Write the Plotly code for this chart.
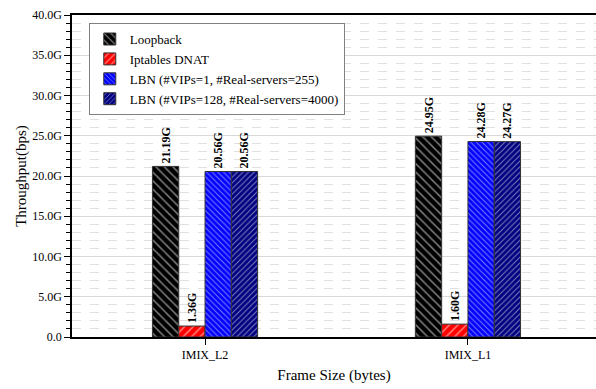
import plotly.graph_objects as go

categories = ["IMIX_L2", "IMIX_L1"]
series_names = ["Loopback", "Iptables DNAT",
                "LBN (#VIPs=1, #Real-servers=255)",
                "LBN (#VIPs=128, #Real-servers=4000)"]
loopback = [21.19, 24.95]
iptables = [1.36, 1.60]
lbn_1 = [20.56, 24.28]
lbn_128 = [20.56, 24.27]
y_tick_vals = [0, 5, 10, 15, 20, 25, 30, 35, 40]
y_tick_text = ["0.0", "5.0G", "10.0G", "15.0G", "20.0G", "25.0G", "30.0G", "35.0G", "40.0G"]

colors = ["#000000", "#FF0000", "#0000FF", "#000080"]
shapes = ["\\", "/", "\\", "/"]
hatch_sizes = [6, 6, 4, 4]
FONT = "Liberation Serif, Times New Roman, serif"

fig = go.Figure()
for name, vals, col, shp, hs in zip(series_names, [loopback, iptables, lbn_1, lbn_128], colors, shapes, hatch_sizes):
    fig.add_trace(go.Bar(
        x=categories, y=vals, name=name,
        marker=dict(color=col, line=dict(color="#333333", width=1),
                    pattern=dict(shape=shp, fgcolor="white", bgcolor=col, size=hs, solidity=0.25)),
        text=[f"{v:.2f}G" for v in vals], textposition="outside", textangle=-90,
        constraintext="none",
        textfont=dict(family=FONT, size=12, color="black", weight="bold"),
        cliponaxis=False,
    ))

fig.update_layout(
    width=596, height=389,
    margin=dict(l=72, r=0, t=15, b=52),
    paper_bgcolor="white", plot_bgcolor="white",
    barmode="group", bargap=0.6, bargroupgap=0,
    font=dict(family=FONT, size=12, color="black"),
    showlegend=True,
    legend=dict(x=0.032, y=0.975, xanchor="left", yanchor="top",
                bgcolor="white", bordercolor="#808080", borderwidth=1,
                font=dict(family=FONT, size=13), tracegroupgap=0,
                itemwidth=30),
)
fig.update_xaxes(
    range=[-0.506, 1.487], showline=True, linecolor="black", linewidth=1.5, mirror=True,
    ticks="outside", ticklen=6, tickcolor="black", showgrid=False,
    title=dict(text="Frame Size (bytes)", font=dict(family=FONT, size=15), standoff=8),
    tickfont=dict(family=FONT, size=12),
)
fig.update_yaxes(
    range=[0, 40], tickvals=y_tick_vals, ticktext=y_tick_text,
    showline=True, linecolor="black", linewidth=1.5,
    ticks="outside", ticklen=6, tickcolor="black",
    showgrid=True, gridcolor="#d9d9d9", gridwidth=1,
    minor=dict(dtick=1, ticks="outside", ticklen=4, tickcolor="black",
               showgrid=True, gridcolor="#e0e0e0", griddash="dash"),
    zeroline=False,
    title=dict(text="Throughput(bps)", font=dict(family=FONT, size=15), standoff=2),
    tickfont=dict(family=FONT, size=12),
)
fig.write_html("out.html", post_script="document.body.style.margin='0';",
               config={"displayModeBar": False})
